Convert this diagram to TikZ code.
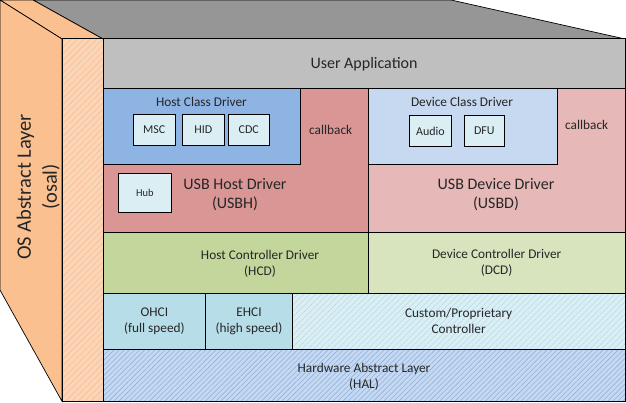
\documentclass[tikz,border=0pt]{standalone}
\usepackage{fontspec}
\setmainfont{Carlito}
\usetikzlibrary{patterns.meta}
\definecolor{topgray}{HTML}{969696}
\definecolor{uagray}{HTML}{BFBFBF}
\definecolor{hclsblue}{HTML}{8EB4E3}
\definecolor{lightbox}{HTML}{DBEEF4}
\definecolor{usbhred}{HTML}{D99694}
\definecolor{dclsblue}{HTML}{C6D9F1}
\definecolor{usbdpink}{HTML}{E6B9B8}
\definecolor{hcdgreen}{HTML}{C3D69B}
\definecolor{dcdgreen}{HTML}{D7E4BD}
\definecolor{hciblue}{HTML}{B7DEE8}
\definecolor{custline}{HTML}{A9D4E2}
\definecolor{halfill}{HTML}{C6D9F1}
\definecolor{halline}{HTML}{8DB3E2}
\definecolor{osalside}{HTML}{FAC090}
\definecolor{osalfront}{HTML}{FBD5B5}
\definecolor{osalline}{HTML}{F6BE98}
\definecolor{txt}{HTML}{262626}
\begin{document}
\begin{tikzpicture}[x=1pt,y=-1pt,
  blk/.style={draw=black, line width=1pt, inner sep=0pt, outer sep=0pt, anchor=north west},
  face/.style={draw=black, line width=0.7pt, line join=miter},
  lbl/.style={text=txt, align=center, inner sep=0pt, font=\fontsize{13.3}{16}\selectfont},
  biglbl/.style={text=txt, align=center, inner sep=0pt, font=\fontsize{16}{19}\selectfont},
  modlbl/.style={text=txt, font=\fontsize{12}{14}\selectfont},
  hatch/.style 2 args={preaction={fill=#1}, pattern={Lines[angle=45,distance=#2,line width=0.6pt]}},
]
\useasboundingbox (0,0) rectangle (626,403);
% 3D corners
\coordinate (bl) at (0,0);
\coordinate (bm) at (33,0);
\coordinate (br) at (451,0);
\coordinate (fl) at (62,39);
\coordinate (fm) at (103,39);
\coordinate (fr) at (625,39);
\coordinate (ll) at (0,290);
\coordinate (lb) at (62,401.3);
% top faces and side face
\path[face, fill=topgray] (bm) -- (br) -- (fr) -- (fm) -- cycle;
\path[face, fill=osalside] (bl) -- (bm) -- (fm) -- (fl) -- cycle;
\path[face, fill=osalside] (bl) -- (fl) -- (lb) -- (ll) -- cycle;
% osal front face
\node[blk, hatch={osalfront}{4.5pt}, pattern color=osalline, minimum width=41pt, minimum height=362.3pt] (osal) at (fl) {};
\node[text=txt, rotate=90, align=center, inner sep=0pt, font=\fontsize{20.5}{26}\selectfont] (osaltxt) at (38.3,187) {OS Abstract Layer\\(osal)};
% user application
\node[blk, fill=uagray, minimum width=522pt, minimum height=49.3pt] (ua) at (fm) {};
\node[biglbl] (uatxt) at ([yshift=-1pt]ua.center) {User Application};
% USB host driver
\node[blk, fill=usbhred, minimum width=265.3pt, minimum height=144pt] (usbh) at (103,88.3) {};
\node[blk, fill=hclsblue, minimum width=197.7pt, minimum height=76pt] (hcls) at (103,88.3) {};
\node[lbl] (hclstxt) at (201.5,101.7) {Host Class Driver};
\node[blk, fill=lightbox, minimum width=42pt, minimum height=31pt] (msc) at (133.3,114.3) {};
\node[modlbl] at (msc.center) {MSC};
\node[blk, fill=lightbox, minimum width=42pt, minimum height=31pt] (hid) at (182.3,114.3) {};
\node[modlbl] at (hid.center) {HID};
\node[blk, fill=lightbox, minimum width=41pt, minimum height=31pt] (cdc) at (228.3,114.3) {};
\node[modlbl] at (cdc.center) {CDC};
\node[lbl] (cb1) at (330.7,130) {callback};
\node[blk, fill=lightbox, minimum width=53pt, minimum height=39.7pt] (hub) at (118.3,173.3) {};
\node[text=txt, font=\fontsize{10.5}{12}\selectfont] at (hub.center) {Hub};
\node[biglbl] (usbhtxt) at (235,194.5) {USB Host Driver\\(USBH)};
% USB device driver
\node[blk, fill=usbdpink, minimum width=256.7pt, minimum height=144pt] (usbd) at (368.3,88.3) {};
\node[blk, fill=dclsblue, minimum width=189.4pt, minimum height=76pt] (dcls) at (368.3,88.3) {};
\node[lbl] (dclstxt) at (462,101.7) {Device Class Driver};
\node[blk, fill=lightbox, minimum width=42.4pt, minimum height=30.6pt] (audio) at (409.3,115.7) {};
\node[modlbl] at (audio.center) {Audio};
\node[blk, fill=lightbox, minimum width=40pt, minimum height=30.6pt] (dfu) at (464.3,115.7) {};
\node[modlbl] at (dfu.center) {DFU};
\node[lbl] (cb2) at (586.7,125) {callback};
\node[biglbl] (usbdtxt) at (496,195) {USB Device Driver\\(USBD)};
% controller drivers
\node[blk, fill=hcdgreen, minimum width=265.3pt, minimum height=61pt] (hcd) at (103,232.3) {};
\node[lbl] (hcdtxt) at (260,263.5) {Host Controller Driver\\(HCD)};
\node[blk, fill=dcdgreen, minimum width=256.7pt, minimum height=61pt] (dcd) at (368.3,232.3) {};
\node[lbl] (dcdtxt) at ([yshift=-0.5pt]dcd.center) {Device Controller Driver\\(DCD)};
% controllers
\node[blk, fill=hciblue, minimum width=102.7pt, minimum height=56pt] (ohci) at (103,293.3) {};
\node[lbl] at (ohci.center) {OHCI\\(full speed)};
\node[blk, fill=hciblue, minimum width=86.6pt, minimum height=56pt] (ehci) at (205.7,293.3) {};
\node[lbl] at (ehci.center) {EHCI\\(high speed)};
\node[blk, hatch={lightbox}{4pt}, pattern color=custline, minimum width=332.7pt, minimum height=56pt] (cust) at (292.3,293.3) {};
\node[lbl] at (cust.center) {Custom/Proprietary\\Controller};
% HAL
\node[blk, hatch={halfill}{3.6pt}, pattern color=halline, minimum width=522pt, minimum height=52pt] (hal) at (103,349.3) {};
\node[lbl] at ([yshift=-2pt]hal.center) {Hardware Abstract Layer\\(HAL)};
\end{tikzpicture}
\end{document}
